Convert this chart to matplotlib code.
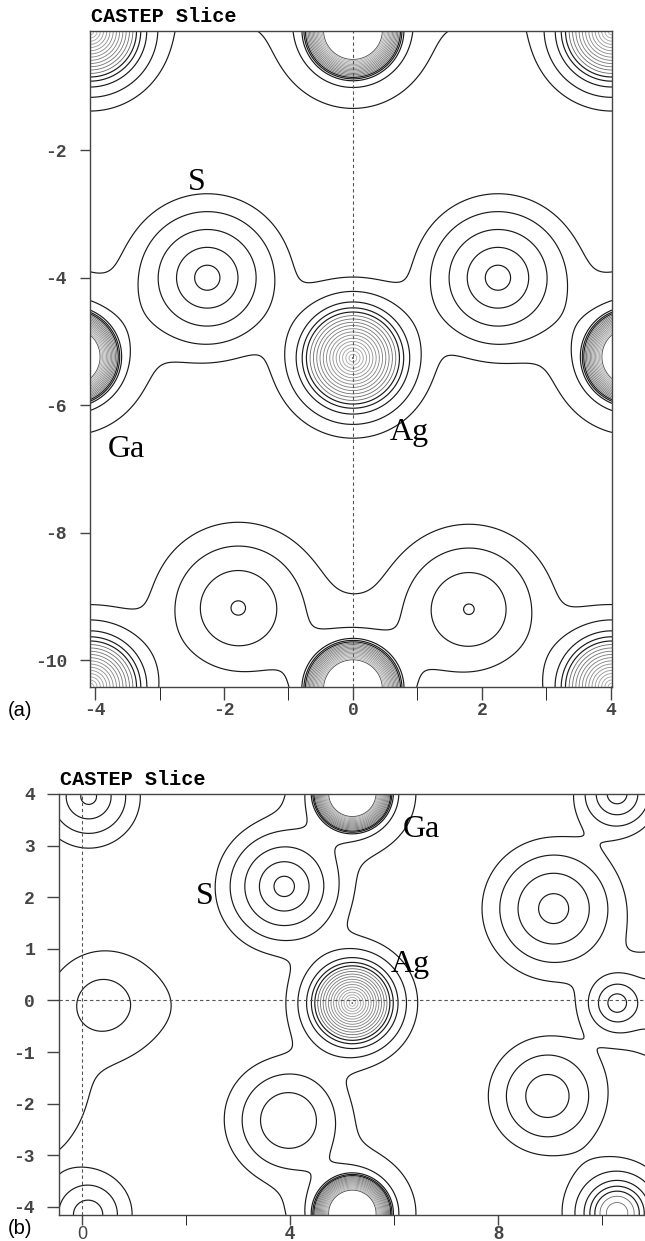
"""CASTEP charge density slices (a) and (b) redrawn as contour plots."""
import matplotlib
matplotlib.use("Agg")
import matplotlib.pyplot as plt
import numpy as np

plt.rcParams["axes.unicode_minus"] = False

# radial profile per species: (log amplitude, decay length) of each component
PROFILES = {
    "S": [(4.7, 0.28)],
    "Ag": [(5.7, 0.22), (18.2, 0.05)],
    "Ga": [(3.7, 0.33), (40.8, 0.02)],
}
N_LEVELS = 19  # contour levels on log density, 0 .. 18

# panel (a): atoms in/near the slice
A_KIND = ["Ag", "Ag", "Ag", "Ag", "Ag", "Ga", "Ga", "Ga", "Ga",
          "S", "S", "S", "S", "S", "S", "S", "S", "S", "S"]
A_X = [0.00, -4.08, 4.02, -4.08, 4.02, -4.38, 4.32, 0.00, 0.00,
       -2.26, 2.25, -1.78, 1.80, -1.80, 1.80, -5.85, 5.85, -6.30, 6.30]
A_Y = [-5.26, -0.13, -0.13, -10.42, -10.42, -5.24, -5.24, -0.12, -10.45,
       -4.00, -4.00, -9.18, -9.20, 1.12, 1.12, -4.00, -4.00, -9.18, -9.18]
A_SHIFT = [0, 0, 0, 0, 0, 0, 0, 0, 0,
           0, 0, -0.95, -0.98, -1.7, -1.7, 0, 0, -1.0, -1.0]
A_WIDTH = [1, 1, 1, 1, 1, 1, 1, 1, 1,
           1, 1, 1.3, 1.3, 1.3, 1.3, 1, 1, 1.3, 1.3]
A_DEPTH = [0, 0, 0, 0, 0, 0, 0, 0, 0,
           0, 0, 0.25, 0.25, 0.25, 0.25, 0, 0, 0.25, 0.25]

# panel (b)
B_KIND = ["Ag", "Ga", "Ga", "S", "S", "S", "S", "S", "S", "S", "Ag",
          "S", "S", "S", "S", "S"]
B_X = [5.20, 5.20, 5.20, 3.89, 3.97, 9.07, 8.95, 0.13, 0.12, 10.29, 10.29,
       10.29, 0.40, 1.40, -1.20, 11.50]
B_Y = [-0.05, 4.02, -4.13, 2.21, -2.32, 1.78, -1.85, 3.95, -4.15, 4.00, -4.12,
       -0.05, -0.08, -0.10, -1.85, -0.10]
B_SHIFT = [0, 0, 0, 0, -0.80, -0.44, -1.15, -1.16, -1.70, -0.80, -0.3,
           -0.72, -2.85, -5.04, -1.94, -2.24]
B_WIDTH = [1, 1, 1, 1, 1.15, 1.18, 1.18, 1, 1, 0.75, 1,
           0.62, 1.9, 2.5, 1.6, 1.6]
B_DEPTH = [0, 0, 0, 0, 0.3, 0.3, 0.3, 0, 0, 0, 0.56,
           0, 0, 0, 0.3, 0]

A_XLIM, A_YLIM = (-4.08, 4.02), (-10.42, -0.13)
B_XLIM, B_YLIM = (-0.44, 11.5), (-4.155, 4.0)

A_XTICKS = [-4, -2, 0, 2, 4]
A_XMINOR = [-3, -1, 1, 3]
A_YTICKS = [-2, -4, -6, -8, -10]
B_XTICKS = [0, 4, 8]
B_XMINOR = [2, 6, 10]
B_YTICKS = [4, 3, 2, 1, 0, -1, -2, -3, -4]

A_LABELS = [("S", -2.42, -2.63), ("Ga", -3.52, -6.82), ("Ag", 0.87, -6.55)]
B_LABELS = [("S", 2.37, 1.86), ("Ga", 6.52, 3.17), ("Ag", 6.31, 0.56)]

MONO = ["Liberation Mono", "DejaVu Sans Mono"]
SANS = ["Liberation Sans", "DejaVu Sans"]
SERIF = ["Liberation Serif", "DejaVu Serif"]
FRAME = "#444444"


def log_density(xlim, ylim, kinds, xs, ys, shifts, widths, depths, step=0.01):
    gx = np.arange(xlim[0], xlim[1] + step, step)
    gy = np.arange(ylim[0], ylim[1] + step, step)
    X, Y = np.meshgrid(gx, gy)
    Z = np.full(X.shape, -np.inf)
    for kind, x0, y0, sh, w, d in zip(kinds, xs, ys, shifts, widths, depths):
        r = np.sqrt((X - x0) ** 2 + (Y - y0) ** 2 + d ** 2)
        for ln_a, length in PROFILES[kind]:
            Z = np.logaddexp(Z, ln_a + sh - r / (length * w))
    return gx, gy, Z


def draw_contours(ax, gx, gy, Z):
    levels = np.arange(N_LEVELS)
    colors, widths = [], []
    for k in levels:
        if k <= 4:
            colors.append("#1a1a1a")
            widths.append(0.85)
        else:
            g = 0.4 + 0.3 * (k - 5) / (N_LEVELS - 6)
            if k == N_LEVELS - 1:
                g = 0.3
            colors.append(str(g))
            widths.append(0.6)
    ax.contour(gx, gy, Z, levels=levels, colors=colors, linewidths=widths)


def style_axes(ax):
    for sp in ax.spines.values():
        sp.set_color(FRAME)
        sp.set_linewidth(1.0)
    ax.tick_params(colors=FRAME, width=1.0)


fig = plt.figure(figsize=(6.45, 12.41), dpi=100)

# ---- panel (a)
ax_a = fig.add_axes([90 / 645, 1 - 687 / 1241, 522 / 645, 656 / 1241])
gx, gy, Z = log_density(A_XLIM, A_YLIM, A_KIND, A_X, A_Y, A_SHIFT, A_WIDTH, A_DEPTH)
draw_contours(ax_a, gx, gy, Z)
ax_a.axvline(0, color="#555555", lw=0.8, ls=(0, (3, 2.5)))
ax_a.set_xlim(*A_XLIM)
ax_a.set_ylim(*A_YLIM)
ax_a.set_xticks(A_XTICKS)
ax_a.set_xticks(A_XMINOR, minor=True)
ax_a.set_yticks(A_YTICKS)
ax_a.set_xticklabels([str(v) for v in A_XTICKS], family=MONO, weight="bold", size=13)
ax_a.set_yticklabels([str(v) for v in A_YTICKS], family=MONO, weight="bold", size=13)
style_axes(ax_a)
ax_a.tick_params(axis="x", which="both", direction="out", length=9.4, pad=1.5)
ax_a.tick_params(axis="y", direction="out", length=7.2, pad=9.4)
for txt, x, y in A_LABELS:
    ax_a.text(x, y, txt, family=SERIF, size=23, ha="center", va="baseline")

# ---- panel (b)
ax_b = fig.add_axes([59 / 645, 1 - 1215 / 1241, (680 - 59) / 645, 421 / 1241])
gx, gy, Z = log_density(B_XLIM, B_YLIM, B_KIND, B_X, B_Y, B_SHIFT, B_WIDTH, B_DEPTH)
draw_contours(ax_b, gx, gy, Z)
ax_b.axvline(0, color="#555555", lw=0.8, ls=(0, (3, 2.5)))
ax_b.axhline(0, color="#555555", lw=0.8, ls=(0, (3, 2.5)))
ax_b.set_xlim(*B_XLIM)
ax_b.set_ylim(*B_YLIM)
ax_b.set_xticks(B_XTICKS)
ax_b.set_xticks(B_XMINOR, minor=True)
ax_b.set_yticks(B_YTICKS)
ax_b.set_xticklabels([str(v) for v in B_XTICKS], family=SANS, weight="bold", size=13)
ax_b.get_xticklabels()[0].set_weight("normal")
ax_b.set_yticklabels([str(v) for v in B_YTICKS], family=MONO, weight="bold", size=13)
style_axes(ax_b)
ax_b.tick_params(axis="x", which="both", direction="out", length=7.2, pad=0.5)
ax_b.tick_params(axis="y", direction="out", length=8.6, pad=8.6)
for txt, x, y in B_LABELS:
    ax_b.text(x, y, txt, family=SERIF, size=23, ha="center", va="baseline")

# titles and panel letters
fig.text(91 / 645, 1 - 22 / 1241, "CASTEP Slice", family=MONO, weight="bold",
         size=14.5, ha="left", va="baseline")
fig.text(60 / 645, 1 - 785 / 1241, "CASTEP Slice", family=MONO, weight="bold",
         size=14.5, ha="left", va="baseline")
fig.text(8 / 645, 1 - 710 / 1241, "(a)", family=SANS, size=14.5, ha="left", va="center")
fig.text(8 / 645, 1 - 1228 / 1241, "(b)", family=SANS, size=14.5, ha="left", va="center")

fig.savefig("out.png", dpi=100)
